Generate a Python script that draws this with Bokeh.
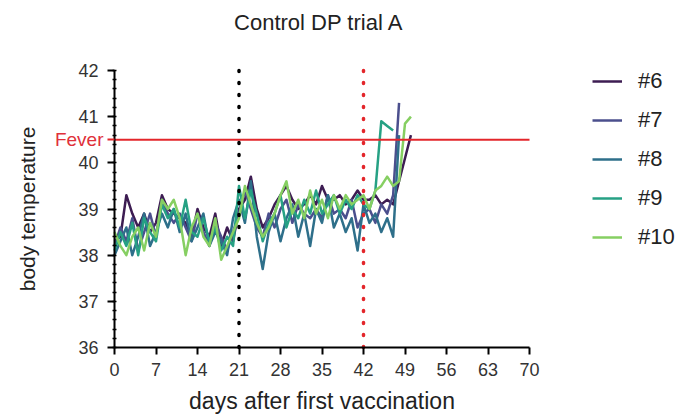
from bokeh.plotting import figure
from bokeh.models import (Legend, LegendItem, FixedTicker, LinearAxis,
                          SingleIntervalTicker, Range1d, Label)
from bokeh.embed import file_html
from bokeh.resources import INLINE

# ---------------- data ----------------
title_text = "Control DP trial A"
x_label = "days after first vaccination"
y_label = "body temperature"
x_ticks = [0, 7, 14, 21, 28, 35, 42, 49, 56, 63, 70]
y_ticks = [36, 37, 38, 39, 40, 41, 42]
fever_level = 40.5
fever_text = "Fever"
vacc_days = [21, 42]

names = ["#6", "#7", "#8", "#9", "#10"]
colors = ["#3d1c52", "#4b4f8d", "#2e6f8a", "#26a184", "#86cf62"]

t6 = [38.3, 38.4, 39.3, 38.9, 38.6, 38.9, 38.5, 38.7, 39.3, 39.0,
      38.9, 38.8, 38.7, 38.4, 39.0, 38.6, 38.4, 38.9, 38.2, 38.6,
      38.3, 39.0, 39.2, 39.7, 39.0, 38.6, 38.8, 39.1, 39.3, 39.5,
      39.2, 39.0, 39.1, 39.3, 39.1, 39.5, 39.2, 39.2, 39.3, 39.1,
      39.2, 39.4, 39.2, 39.2, 39.3, 39.1, 39.2, 39.1, 39.6, 40.1,
      40.6]
t7 = [38.2, 38.6, 38.3, 38.8, 38.1, 38.5, 38.9, 38.4, 39.2, 38.9,
      38.7, 38.9, 38.6, 38.3, 38.9, 38.5, 38.2, 38.7, 38.4, 38.1,
      38.5, 38.9, 39.4, 39.0, 38.6, 38.4, 38.9, 38.6, 39.0, 39.2,
      38.7, 39.1, 38.9, 38.8, 39.0, 38.8, 39.3, 38.9, 39.0, 38.8,
      39.2, 38.6, 38.9, 39.0, 38.7, 39.1, 38.9, 39.3, 41.3]
t8 = [38.0, 38.3, 38.6, 38.0, 38.4, 38.9, 38.2, 38.5, 38.9, 38.6,
      39.0, 38.5, 38.9, 38.3, 38.6, 38.9, 38.2, 38.5, 38.3, 38.0,
      38.8, 39.2, 38.7, 39.6, 38.4, 37.7, 38.5, 38.9, 38.3, 38.8,
      39.1, 38.4, 38.9, 38.2, 39.0, 38.7, 39.3, 38.6, 38.9, 38.5,
      38.8, 38.1, 39.1, 38.7, 38.9, 38.5, 38.8, 38.4, 40.6]
t9 = [38.1, 38.5, 38.2, 38.7, 38.0, 38.8, 38.5, 38.3, 39.1, 38.8,
      39.0, 38.6, 39.2, 38.5, 38.4, 38.8, 38.3, 38.6, 38.1, 38.4,
      38.2, 39.5, 38.8, 39.4, 38.9, 38.3, 38.7, 38.9, 39.3, 38.6,
      39.0, 38.8, 39.2, 38.9, 39.4, 38.9, 39.1, 39.3, 38.9, 39.2,
      39.0, 39.3, 39.1, 39.0, 39.4, 40.9, 40.8, 40.7]
t10 = [38.5, 38.2, 38.0, 38.4, 38.6, 38.1, 38.7, 38.4, 39.2, 39.0,
       39.2, 38.8, 38.0, 38.6, 38.9, 38.4, 38.2, 38.8, 37.9, 38.2,
       38.5, 38.8, 39.5, 39.1, 38.7, 38.4, 38.6, 38.9, 39.3, 39.6,
       38.9, 39.2, 38.8, 39.4, 38.9, 39.2, 38.8, 39.3, 39.0, 39.3,
       39.1, 39.2, 39.3, 39.0, 39.4, 39.5, 39.7, 39.5, 39.6, 40.85,
       41.0]
series = [t6, t7, t8, t9, t10]

FONT = "Liberation Sans"
RED = "#e3262b"

# ---------------- layout constants (pixels) ----------------
W, H = 679, 418
FL, FR, FT, FB = 114, 529, 70, 347          # plot-area edges in the picture
x0, x1 = x_ticks[0], x_ticks[-1]
y0, y1 = y_ticks[0], y_ticks[-1]
kx = (x1 - x0) / (FR - FL)
ky = (y1 - y0) / (FB - FT)
xr = Range1d(x0 - FL * kx, x1 + (W - FR) * kx)
yr = Range1d(y0 - (H - FB) * ky, y1 + FT * ky)

p = figure(width=W, height=H, output_backend="svg", toolbar_location=None,
           x_range=xr, y_range=yr, x_axis_location=None, y_axis_location=None,
           min_border=0)
p.outline_line_color = None
p.grid.visible = False
p.background_fill_color = "white"
p.border_fill_color = "white"

renderers = []
for name, col, vals in zip(names, colors, series):
    days = list(range(len(vals)))
    r = p.line(days, vals, line_color=col, line_width=2.5, line_join="round")
    renderers.append(r)

# reference lines
p.segment(x0=[x0], x1=[x1], y0=[fever_level], y1=[fever_level],
          line_color=RED, line_width=2)
p.segment(x0=vacc_days, x1=vacc_days, y0=[y0, y0], y1=[y1, y1],
          line_color=["black", RED], line_width=3.5, line_dash="1 11",
          line_cap="round")

# axes pinned to the data origin
def style(ax):
    ax.axis_line_color = "black"
    ax.axis_line_width = 2
    ax.major_tick_line_color = "black"
    ax.major_tick_line_width = 2
    ax.major_tick_out = 7
    ax.major_tick_in = 0
    ax.major_label_text_font = FONT
    ax.major_label_text_font_size = "18px"
    ax.major_label_text_color = "#333333"
    ax.axis_label_text_font = FONT
    ax.axis_label_text_font_style = "normal"
    ax.axis_label_text_color = "#222222"

xa = LinearAxis(ticker=FixedTicker(ticks=x_ticks), axis_label=x_label,
                fixed_location=y0, bounds=(x0, x1))
style(xa)
xa.axis_label_text_font_size = "23px"
xa.minor_tick_line_color = None
xa.major_label_standoff = 8
xa.axis_label_standoff = 9
p.add_layout(xa, "below")

ya = LinearAxis(ticker=SingleIntervalTicker(interval=1, num_minor_ticks=5),
                axis_label=y_label, fixed_location=x0, bounds=(y0, y1))
style(ya)
ya.axis_label_text_font_size = "21px"
ya.minor_tick_line_color = "black"
ya.minor_tick_line_width = 1.5
ya.minor_tick_in = 2
ya.minor_tick_out = 2
ya.major_label_standoff = 9
ya.axis_label_standoff = 36
p.add_layout(ya, "left")

fa = LinearAxis(ticker=FixedTicker(ticks=[fever_level]),
                major_label_overrides={fever_level: fever_text},
                fixed_location=x0)
style(fa)
fa.axis_line_color = None
fa.minor_tick_line_color = None
fa.major_tick_line_color = RED
fa.major_label_standoff = 4
fa.major_label_text_font_size = "19px"
fa.major_label_text_color = "#e0303a"
p.add_layout(fa, "left")

# title
p.add_layout(Label(x=(x0 + x1) / 2, y=y1, y_offset=48, x_offset=-3,
                   text=title_text, text_align="center",
                   text_baseline="middle", text_font=FONT,
                   text_font_size="22px", text_color="#222222"))

legend = Legend(items=[LegendItem(label=n, renderers=[r])
                       for n, r in zip(names, renderers)],
                location=(592, 168), orientation="vertical",
                padding=0, margin=0, spacing=13,
                glyph_width=30, glyph_height=20, label_height=20,
                label_standoff=16, label_text_font=FONT,
                label_text_font_size="22px", label_text_color="#222222",
                background_fill_alpha=0, border_line_color=None)
p.add_layout(legend)

open("out.html", "w").write(file_html(p, INLINE))
